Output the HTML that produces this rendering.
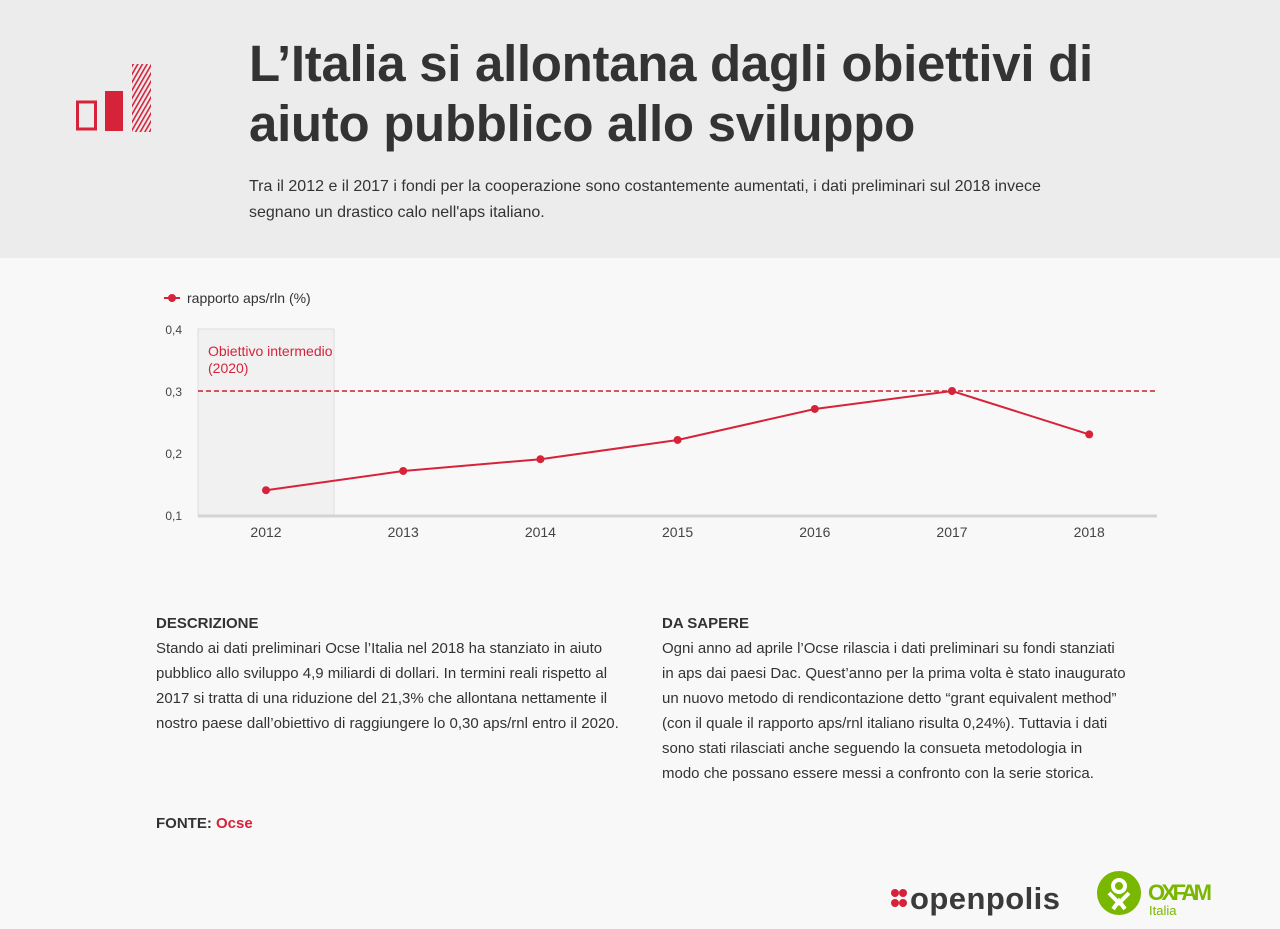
<!DOCTYPE html>
<html><head><meta charset="utf-8">
<style>
body{margin:0;width:1280px;height:929px;background:#f8f8f8;font-family:"Liberation Sans",sans-serif;color:#333;position:relative;overflow:hidden}
.hdr{position:absolute;left:0;top:0;width:1280px;height:258px;background:#ececec}
h1{position:absolute;left:249px;top:34px;margin:0;font-size:51px;line-height:60px;font-weight:bold;color:#333;letter-spacing:-0.3px}
.sub{position:absolute;left:249px;top:174px;width:820px;font-size:16px;line-height:26px;color:#333}
.col{position:absolute;top:611px;font-size:15px;line-height:25px;color:#333;white-space:nowrap}
.col b{display:block}
</style></head><body>
<div class="hdr"></div>
<svg style="position:absolute;left:70px;top:60px" width="90" height="80">
<defs><pattern id="h" width="4" height="4" patternUnits="userSpaceOnUse" patternTransform="rotate(-60)"><rect width="4" height="1.6" fill="#d6233a"/></pattern></defs>
<rect x="7.5" y="42" width="18" height="27" fill="none" stroke="#d6233a" stroke-width="3"/>
<rect x="35" y="31" width="18" height="40" fill="#d6233a"/>
<rect x="62" y="4" width="19" height="68" fill="url(#h)"/>
</svg>
<h1>L’Italia si allontana dagli obiettivi di<br>aiuto pubblico allo sviluppo</h1>
<div class="sub">Tra il 2012 e il 2017 i fondi per la cooperazione sono costantemente aumentati, i dati preliminari sul 2018 invece segnano un drastico calo nell'aps italiano.</div>
<svg id="chart" style="position:absolute;left:0;top:280px" width="1280" height="280"></svg>
<div class="col" style="left:156px"><b>DESCRIZIONE</b>Stando ai dati preliminari Ocse l’Italia nel 2018 ha stanziato in aiuto<br>pubblico allo sviluppo 4,9 miliardi di dollari. In termini reali rispetto al<br>2017 si tratta di una riduzione del 21,3% che allontana nettamente il<br>nostro paese dall’obiettivo di raggiungere lo 0,30 aps/rnl entro il 2020.</div>
<div class="col" style="left:662px"><b>DA SAPERE</b>Ogni anno ad aprile l’Ocse rilascia i dati preliminari su fondi stanziati<br>in aps dai paesi Dac. Quest’anno per la prima volta è stato inaugurato<br>un nuovo metodo di rendicontazione detto “grant equivalent method”<br>(con il quale il rapporto aps/rnl italiano risulta 0,24%). Tuttavia i dati<br>sono stati rilasciati anche seguendo la consueta metodologia in<br>modo che possano essere messi a confronto con la serie storica.</div>
<div class="col" style="left:156px;top:811px;font-weight:bold">FONTE: <span style="color:#d6233a">Ocse</span></div>
<svg style="position:absolute;left:885px;top:868px" width="340" height="55">
<g fill="#d6233a"><circle cx="10" cy="25" r="4"/><circle cx="18" cy="25" r="4"/><circle cx="10" cy="35" r="4"/><circle cx="18" cy="35" r="4"/></g>
<text x="25" y="41" font-size="31" font-weight="bold" fill="#3a3a3a" font-family="Liberation Sans,sans-serif" textLength="150">openpolis</text>
<circle cx="234" cy="25" r="22" fill="#79b700"/>
<circle cx="234" cy="18" r="6" fill="none" stroke="#fff" stroke-width="4"/><path d="M224 25 L234 35 L244 25 M228 41 L234 33 L240 41" stroke="#fff" stroke-width="4" fill="none"/>
<text x="263" y="32" font-size="22" font-weight="bold" fill="#79b700" font-family="Liberation Sans,sans-serif" textLength="64">OXFAM</text>
<text x="264" y="47" font-size="13" fill="#79b700" font-family="Liberation Sans,sans-serif">Italia</text>
</svg>
<script>
const years=["2012","2013","2014","2015","2016","2017","2018"];
const values=[0.14,0.171,0.19,0.221,0.271,0.30,0.23];
const yTicks=[0.1,0.2,0.3,0.4];
const yTickLabels=["0,1","0,2","0,3","0,4"];
const target=0.3;
const svg=document.getElementById('chart');
const NS='http://www.w3.org/2000/svg';
const x0=266,step=137.2,yBase=235,yTop=49;
const X=i=>x0+i*step;
const Y=v=>yBase-(v-0.1)/0.3*(yBase-yTop);
function mk(t,a){const e=document.createElementNS(NS,t);for(const k in a)e.setAttribute(k,a[k]);svg.appendChild(e);return e;}
let e;
e=mk('rect',{x:198,y:yTop,width:136,height:yBase-yTop,fill:'#f1f1f1',stroke:'#ddd'});


e=mk('text',{x:208,y:76,'font-size':14,fill:'#d6233a'});e.textContent='Obiettivo intermedio';


e=mk('text',{x:208,y:93,'font-size':14,fill:'#d6233a'});e.textContent='(2020)';


yTicks.forEach((t,i)=>{e=mk('text',{x:182,y:Y(t)+5,'font-size':12,fill:'#444','text-anchor':'end'});e.textContent=yTickLabels[i];

});
e=mk('line',{x1:198,x2:1157,y1:yBase+1,y2:yBase+1,stroke:'#d4d4d4','stroke-width':3});


years.forEach((y,i)=>{e=mk('text',{x:X(i),y:257,'font-size':14,fill:'#444','text-anchor':'middle'});e.textContent=y;

});
e=mk('line',{x1:198,x2:1157,y1:Y(target),y2:Y(target),stroke:'#c8202f','stroke-width':1.5,'stroke-dasharray':'5,3'});


e=mk('polyline',{points:values.map((v,i)=>X(i)+','+Y(v)).join(' '),fill:'none',stroke:'#d6233a','stroke-width':2});


values.forEach((v,i)=>{e=mk('circle',{cx:X(i),cy:Y(v),r:4,fill:'#d6233a'});

});
e=mk('line',{x1:164,x2:180,y1:18,y2:18,stroke:'#d6233a','stroke-width':2});


e=mk('circle',{cx:172,cy:18,r:4,fill:'#d6233a'});


e=mk('text',{x:187,y:23,'font-size':14,fill:'#333'});e.textContent='rapporto aps/rln (%)';


</script>
</body></html>
